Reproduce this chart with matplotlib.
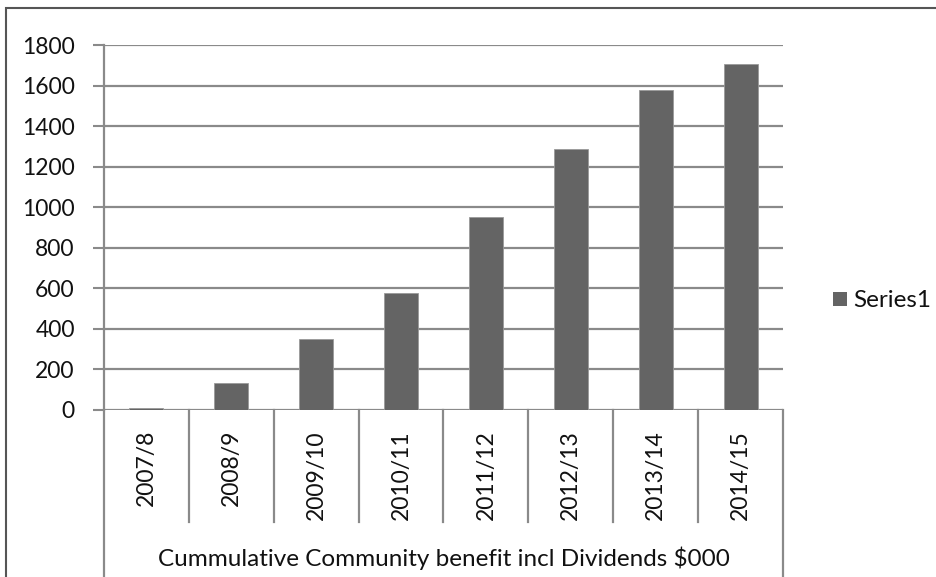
import matplotlib
matplotlib.use("Agg")
import matplotlib.pyplot as plt
from matplotlib.transforms import blended_transform_factory
from matplotlib.patches import Rectangle

plt.rcParams['font.family'] = ['Lato', 'DejaVu Sans']

categories = ["2007/8", "2008/9", "2009/10", "2010/11", "2011/12", "2012/13", "2013/14", "2014/15"]
values = [8, 135, 350, 578, 950, 1285, 1578, 1708]
yticks = [0, 200, 400, 600, 800, 1000, 1200, 1400, 1600, 1800]
series_name = "Series1"
axis_title = "Cummulative Community benefit incl Dividends $000"

W, H = 936, 577
fig = plt.figure(figsize=(W / 100, H / 100), dpi=100)
fig.patch.set_facecolor("white")

# plot area in pixel coordinates
x0, x1 = 104, 783
y_top, y_zero = 45, 410
ax = fig.add_axes([x0 / W, 1 - y_zero / H, (x1 - x0) / W, (y_zero - y_top) / H])

grid_c = "#8a8a8a"
bar_c = "#646464"
text_c = "#111111"
fs = 16.5

n = len(categories)
xs = list(range(n))
ax.bar(xs, values, width=0.4, color=bar_c, edgecolor="#9a9a9a", linewidth=0.6, zorder=3)
ax.set_xlim(-0.5, n - 0.5)
ax.set_ylim(0, 1800)
ax.set_yticks(yticks)
ax.set_yticklabels([str(v) for v in yticks], fontsize=fs, color=text_c)
ax.tick_params(axis="y", length=8, width=1.5, color=grid_c, pad=13)
ax.set_xticks([])
for y in yticks:
    ax.axhline(y, color=grid_c, lw=1.6, zorder=1)
for s in ["top", "right", "bottom"]:
    ax.spines[s].set_visible(False)
ax.spines["left"].set_color(grid_c)
ax.spines["left"].set_linewidth(1.6)

# category table below the plot area
tr = blended_transform_factory(ax.transData, fig.transFigure)
def fy(py):
    return 1 - py / H

for i in range(1, n):
    ax.plot([i - 0.5, i - 0.5], [fy(y_zero), fy(522)], transform=tr,
            color=grid_c, lw=1.6, clip_on=False, zorder=1)
for xb in (-0.5, n - 0.5):
    ax.plot([xb, xb], [fy(y_zero), fy(H + 5)], transform=tr,
            color=grid_c, lw=1.6, clip_on=False, zorder=1)

for i, lab in enumerate(categories):
    ax.text(i, fy(430), lab, transform=tr, rotation=90, ha="center", va="top",
            fontsize=fs, color=text_c)

ax.text((n - 1) / 2, fy(566), axis_title, transform=tr, ha="center", va="baseline",
        fontsize=17.5, color=text_c)

# legend
fig.patches.append(Rectangle((833 / W, fy(306)), 14 / W, 14 / H, transform=fig.transFigure,
                             facecolor=bar_c, edgecolor="none"))
fig.text(853 / W, fy(307), series_name, ha="left", va="baseline", fontsize=17.5, color=text_c)

# outer chart frame
fig.patches.append(Rectangle((6 / W, -0.05), 1.2, fy(8) + 0.05, transform=fig.transFigure,
                             facecolor="none", edgecolor="#555555", linewidth=1.5))

fig.savefig("out.png", dpi=100)
